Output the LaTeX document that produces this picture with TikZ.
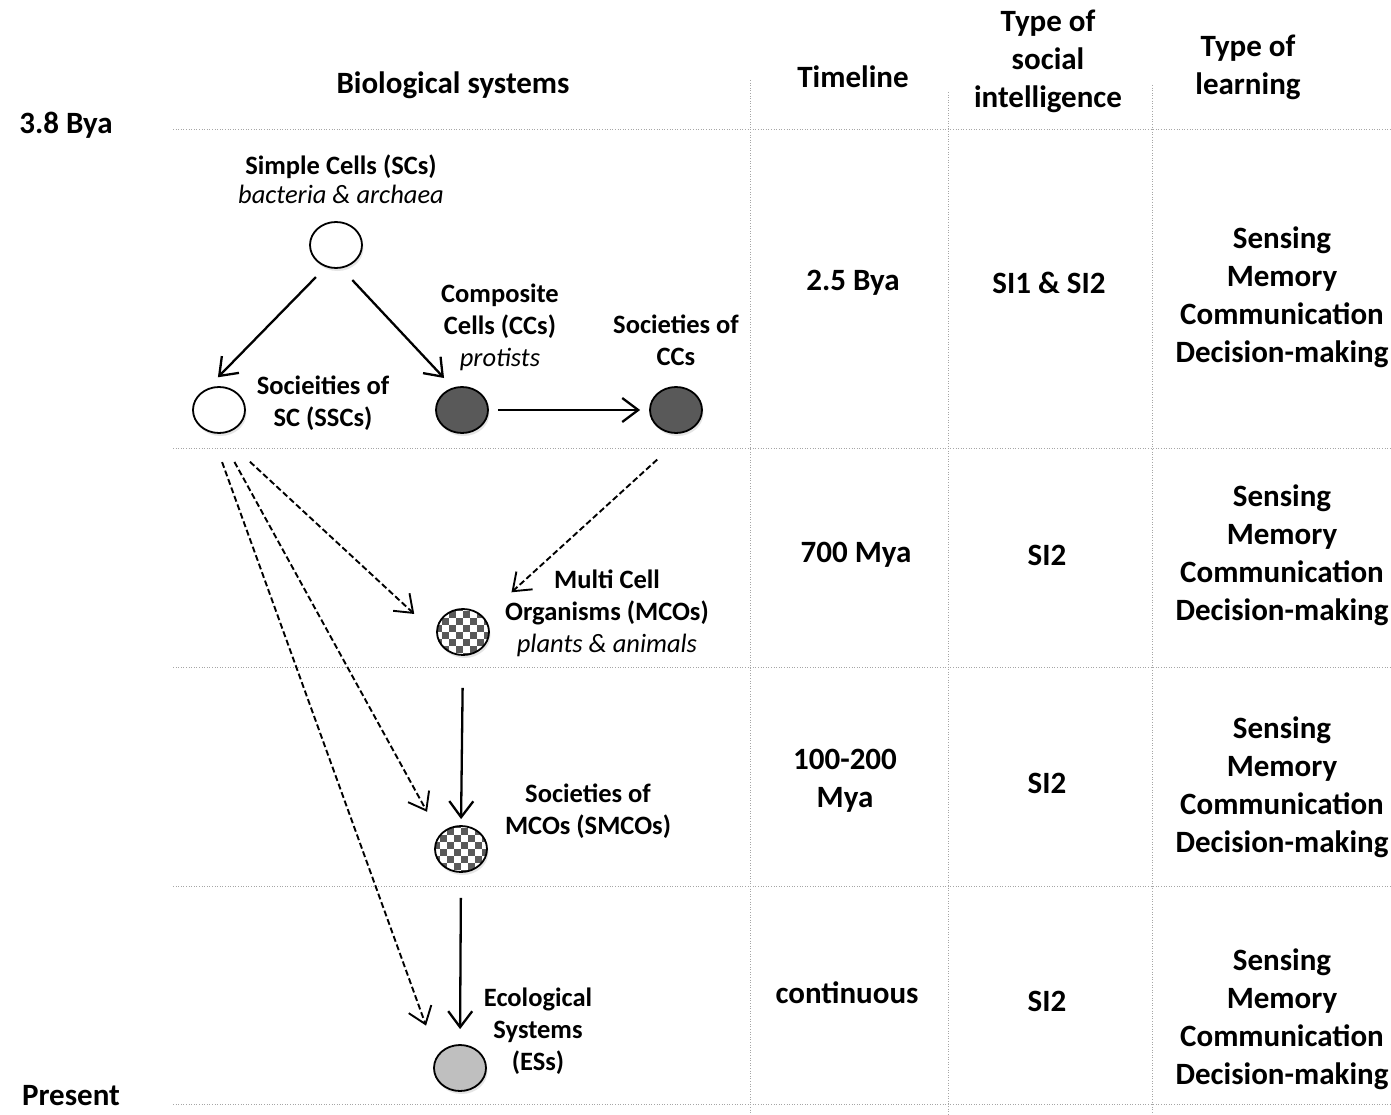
\documentclass[tikz,border=0pt]{standalone}
\usepackage{fontspec}
\setmainfont{Carlito}
\usepackage{tikz}
\usetikzlibrary{arrows.meta,shapes.geometric,shadows}
\tikzset{every picture/.append style={font=\bfseries}}
\definecolor{figdark}{HTML}{595959}
\definecolor{figlight}{HTML}{BFBFBF}
\definecolor{figgrid}{HTML}{A6A6A6}
\tikzset{
  cell/.style={ellipse,draw,line width=1.8pt,minimum width=52pt,minimum height=46pt,
    inner sep=0pt,fill=white,drop shadow={shadow xshift=1.5pt,shadow yshift=-3pt,opacity=0.2}},
  checker/.style={cell,path picture={
    \foreach \i in {-4,...,3} \foreach \j in {-4,...,3} {
      \pgfmathtruncatemacro\k{mod(\i+\j+10,2)}
      \ifnum\k=0 \fill[figdark]
        ([xshift=\i*7pt,yshift=\j*7pt]path picture bounding box.center) rectangle ++(7pt,7pt);\fi}}},
  lbl/.style={align=center,inner sep=0pt,font=\bfseries\fontsize{26.5}{32}\selectfont},
  head/.style={align=center,inner sep=0pt,font=\bfseries\fontsize{31}{38}\selectfont},
  arr/.style={line width=2.3pt,-{Straight Barb[length=16pt,width=24pt]}},
  darr/.style={arr,line width=1.9pt,dash pattern=on 6pt off 3pt},
  grid/.style={figgrid,line width=0.9pt,dash pattern=on 1pt off 1.6pt}
}
\begin{document}
\begin{tikzpicture}[x=1pt,y=-1pt]
    \useasboundingbox[fill=white] (0,0) rectangle (1391,1115);
    % table lines
    \foreach \y in {129,448,667,886,1104} \draw[grid] (173,\y) -- (1391,\y);
    \foreach \x/\t in {750/80,948/92,1152/85} \draw[grid] (\x,\t) -- (\x,1115);
    % headers
    \node[head] (h-bio) at (453,85) {Biological systems};
    \node[head] (h-time) at (853,77) {Timeline};
    \node[head] (h-si) at (1048,61) {Type of\\social\\intelligence};
    \node[head] (h-learn) at (1248,67) {Type of\\learning};
    \node[head] (t-top) at (66,125) {3.8 Bya};
    \node[head] (t-end) at (71,1096) {Present};
    % systems
    \node[cell] (sc) at (336,245) {};
    \node[cell] (ssc) at (219,410) {};
    \node[cell,fill=figdark] (cc) at (462,410) {};
    \node[cell,fill=figdark] (scc) at (676,410) {};
    \node[checker] (mco) at (463,632) {};
    \node[checker] (smco) at (461,849) {};
    \node[cell,fill=figlight] (es) at (460,1068) {};
    \node[lbl,font=\bfseries\fontsize{26.5}{29}\selectfont] (sc-lbl) at (341,179) {Simple Cells (SCs)\\{\mdseries\itshape bacteria \& archaea}};
    \node[lbl] (ssc-lbl) at (323,403) {Socieities of\\SC (SSCs)};
    \node[lbl] (cc-lbl) at (500,327) {Composite\\Cells (CCs)\\{\mdseries\itshape protists}};
    \node[lbl] (scc-lbl) at (676,340) {Societies of\\CCs};
    \node[lbl] (mco-lbl) at (607,613) {Multi Cell\\Organisms (MCOs)\\{\mdseries\itshape plants \& animals}};
    \node[lbl] (smco-lbl) at (588,811) {Societies of\\MCOs (SMCOs)};
    \node[lbl] (es-lbl) at (538,1031) {Ecological\\Systems\\(ESs)};
    % arrows
    \draw[arr,shorten <=14pt,shorten >=16pt] (sc.245) -- (ssc.120);
    \draw[arr,shorten <=16pt,shorten >=13pt] (sc.283) -- (cc.112);
    \draw[arr,shorten <=9pt,shorten >=9pt] (cc.east) -- (scc.west);
    \draw[darr,shorten <=42pt,shorten >=37pt] (scc.300) -- (mco.35);
    \draw[darr,shorten <=41pt,shorten >=30pt] (ssc.272) -- (mco.185);
    \draw[darr,shorten <=32pt,shorten >=26pt] (ssc.270) -- (smco.146);
    \draw[darr,shorten <=31pt,shorten >=32pt] (ssc.252) -- (es.152);
    \draw[arr,shorten <=32pt,shorten >=6pt] (mco.south) -- (smco.north);
    \draw[arr,shorten <=25pt,shorten >=15pt] (smco.south) -- (es.north);
    % timeline
    \node[head] (t1) at (853,283) {2.5 Bya};
    \node[head] (t2) at (856,555) {700 Mya};
    \node[head] (t3) at (845,781) {100-200\\Mya};
    \node[head] (t4) at (847,993) {continuous};
    % social intelligence
    \node[head] (si1) at (1049,283) {SI1 \& SI2};
    \node[head] (si2) at (1047,555) {SI2};
    \node[head] (si3) at (1047,783) {SI2};
    \node[head] (si4) at (1047,1001) {SI2};
    % learning
    \foreach \r/\y in {1/297,2/555,3/787,4/1019}
      \node[head] (learn-\r) at (1282,\y) {Sensing\\Memory\\Communication\\Decision-making};
  \end{tikzpicture}
\end{document}
